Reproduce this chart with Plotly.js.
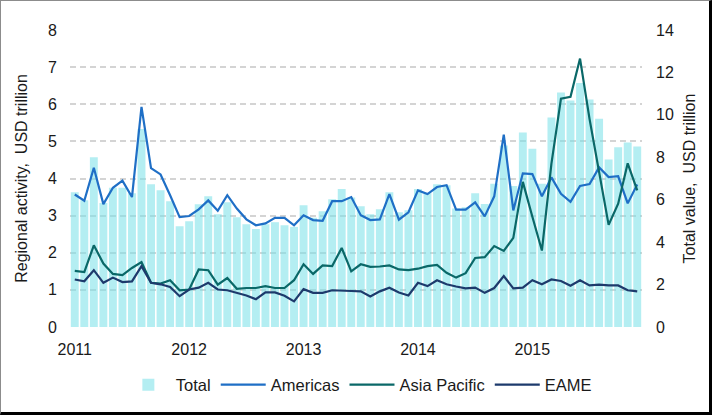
<!DOCTYPE html>
<html>
<head>
<meta charset="utf-8">
<script src="https://cdn.plot.ly/plotly-3.0.1.min.js"></script>
<style>
  html, body { margin: 0; padding: 0; background: #fff; }
  #wrap { position: relative; width: 712px; height: 415px; }
  #chart { position: absolute; left: 0; top: 0; width: 712px; height: 415px; }
  #frame { position: absolute; left: 0; top: 0; width: 712px; height: 415px; box-sizing: border-box;
           border-top: 1px solid #8c8c8c; border-left: 1px solid #8c8c8c;
           border-right: 3px solid #000; border-bottom: 3px solid #000; pointer-events: none; }
</style>
</head>
<body>
<div id="wrap"><div id="chart"></div><div id="frame"></div></div>
<script>
// Months Jan 2011 .. Dec 2015
var years = ["2011", "2012", "2013", "2014", "2015"];
var months = [];
years.forEach(function (y) {
  ["01","02","03","04","05","06","07","08","09","10","11","12"].forEach(function (m) { months.push(y + "-" + m); });
});
var tickMonths = ["2011-01", "2012-01", "2013-01", "2014-01", "2015-01"];
var tickLabels = ["2011", "2012", "2013", "2014", "2015"];

// Total value, USD trillion (right axis)
var total = [6.35, 5.97, 8.00, 5.85, 6.56, 6.56, 6.31, 9.33, 6.73, 6.45, 5.93, 4.75,
             4.99, 5.79, 6.16, 5.32, 5.88, 5.17, 4.84, 4.62, 4.84, 4.94, 4.80, 4.72,
             5.74, 5.15, 5.46, 6.02, 6.50, 6.10, 5.69, 5.32, 5.55, 6.35, 5.41, 5.50,
             6.50, 6.30, 6.73, 6.68, 5.58, 5.65, 6.30, 5.80, 6.75, 8.56, 6.65, 9.17,
             8.40, 6.75, 9.87, 11.05, 10.68, 11.50, 10.72, 9.82, 7.90, 8.47, 8.70, 8.51];

// Regional activity, USD trillion (left axis)
var americas = [3.57, 3.40, 4.29, 3.31, 3.75, 3.94, 3.50, 5.93, 4.28, 4.11, 3.55, 2.96,
                2.99, 3.17, 3.41, 3.13, 3.55, 3.19, 2.90, 2.74, 2.79, 2.94, 2.94, 2.74,
                3.01, 2.88, 2.86, 3.39, 3.39, 3.50, 3.01, 2.88, 2.90, 3.58, 2.89, 3.09,
                3.68, 3.58, 3.77, 3.82, 3.16, 3.16, 3.36, 2.98, 3.52, 5.18, 3.14, 4.14,
                4.12, 3.52, 4.03, 3.59, 3.37, 3.80, 3.85, 4.30, 4.04, 4.06, 3.33, 3.84];

var asiaPacific = [1.51, 1.48, 2.20, 1.71, 1.43, 1.40, 1.59, 1.75, 1.19, 1.17, 1.26, 0.99,
                   1.01, 1.55, 1.53, 1.14, 1.32, 1.03, 1.05, 1.05, 1.10, 1.05, 1.05, 1.26,
                   1.69, 1.43, 1.66, 1.64, 2.13, 1.50, 1.69, 1.62, 1.63, 1.66, 1.55, 1.53,
                   1.57, 1.64, 1.67, 1.46, 1.33, 1.45, 1.86, 1.88, 2.18, 2.05, 2.40, 3.91,
                   2.97, 2.06, 4.40, 6.15, 6.20, 7.23, 5.60, 4.20, 2.75, 3.32, 4.41, 3.68];

var eame = [1.28, 1.23, 1.53, 1.19, 1.33, 1.21, 1.23, 1.64, 1.19, 1.15, 1.08, 0.83,
            1.01, 1.06, 1.19, 1.01, 0.99, 0.93, 0.85, 0.75, 0.93, 0.93, 0.84, 0.69,
            1.02, 0.92, 0.92, 0.99, 0.97, 0.97, 0.96, 0.82, 0.96, 1.06, 0.93, 0.85,
            1.19, 1.10, 1.26, 1.15, 1.09, 1.04, 1.06, 0.92, 1.05, 1.37, 1.04, 1.06,
            1.26, 1.15, 1.28, 1.24, 1.11, 1.26, 1.12, 1.14, 1.12, 1.12, 0.99, 0.96];

var font = "Liberation Sans, Arial, sans-serif";
var txt = "#1a1a1a";

var traces = [
  { type: "bar", name: "Total", x: months, y: total, yaxis: "y",
    marker: { color: "rgba(122,224,232,0.56)", line: { width: 0 } } },
  { type: "scatter", mode: "lines", name: "Americas", x: months, y: americas, yaxis: "y2",
    line: { color: "#1F6FC6", width: 2.2 } },
  { type: "scatter", mode: "lines", name: "Asia Pacific", x: months, y: asiaPacific, yaxis: "y2",
    line: { color: "#0A6868", width: 2.2 } },
  { type: "scatter", mode: "lines", name: "EAME", x: months, y: eame, yaxis: "y2",
    line: { color: "#1D3A6C", width: 2.2 } }
];

var layout = {
  width: 712, height: 415,
  margin: { l: 70, r: 70, t: 30, b: 88 },
  paper_bgcolor: "rgba(0,0,0,0)", plot_bgcolor: "rgba(0,0,0,0)",
  font: { family: font, size: 16, color: txt },
  showlegend: true,
  bargap: 0.17,
  hovermode: false,
  xaxis: {
    type: "category", range: [-0.5, 59.5],
    tickmode: "array", tickvals: tickMonths, ticktext: tickLabels,
    ticks: "", showgrid: false, zeroline: false, showline: false,
    ticklabelstandoff: 11,
    tickfont: { family: font, size: 16, color: txt }
  },
  yaxis: {
    side: "right", range: [0, 14], dtick: 2, tick0: 0,
    showgrid: false, zeroline: false, showline: false, ticks: "",
    ticklabelstandoff: 13,
    tickfont: { family: font, size: 16, color: txt },
    title: { text: "Total value,  USD trillion", standoff: 10, font: { family: font, size: 16, color: txt } }
  },
  yaxis2: {
    overlaying: "y", side: "left", range: [0, 8], dtick: 1, tick0: 0,
    showgrid: true, gridcolor: "#D4D4D4", gridwidth: 2, griddash: "6px,4px",
    zeroline: false, showline: false, ticks: "",
    ticklabelstandoff: 12,
    tickfont: { family: font, size: 16, color: txt },
    title: { text: "Regional activity,  USD trillion", standoff: 16, font: { family: font, size: 16, color: txt } }
  },
  legend: {
    orientation: "h", x: 0.505, xanchor: "center", y: -0.195, yanchor: "middle",
    itemwidth: 45,
    font: { family: font, size: 16.5, color: txt },
    traceorder: "normal", bgcolor: "rgba(0,0,0,0)"
  }
};

Plotly.newPlot("chart", traces, layout, { staticPlot: true, displayModeBar: false });
</script>
</body>
</html>
